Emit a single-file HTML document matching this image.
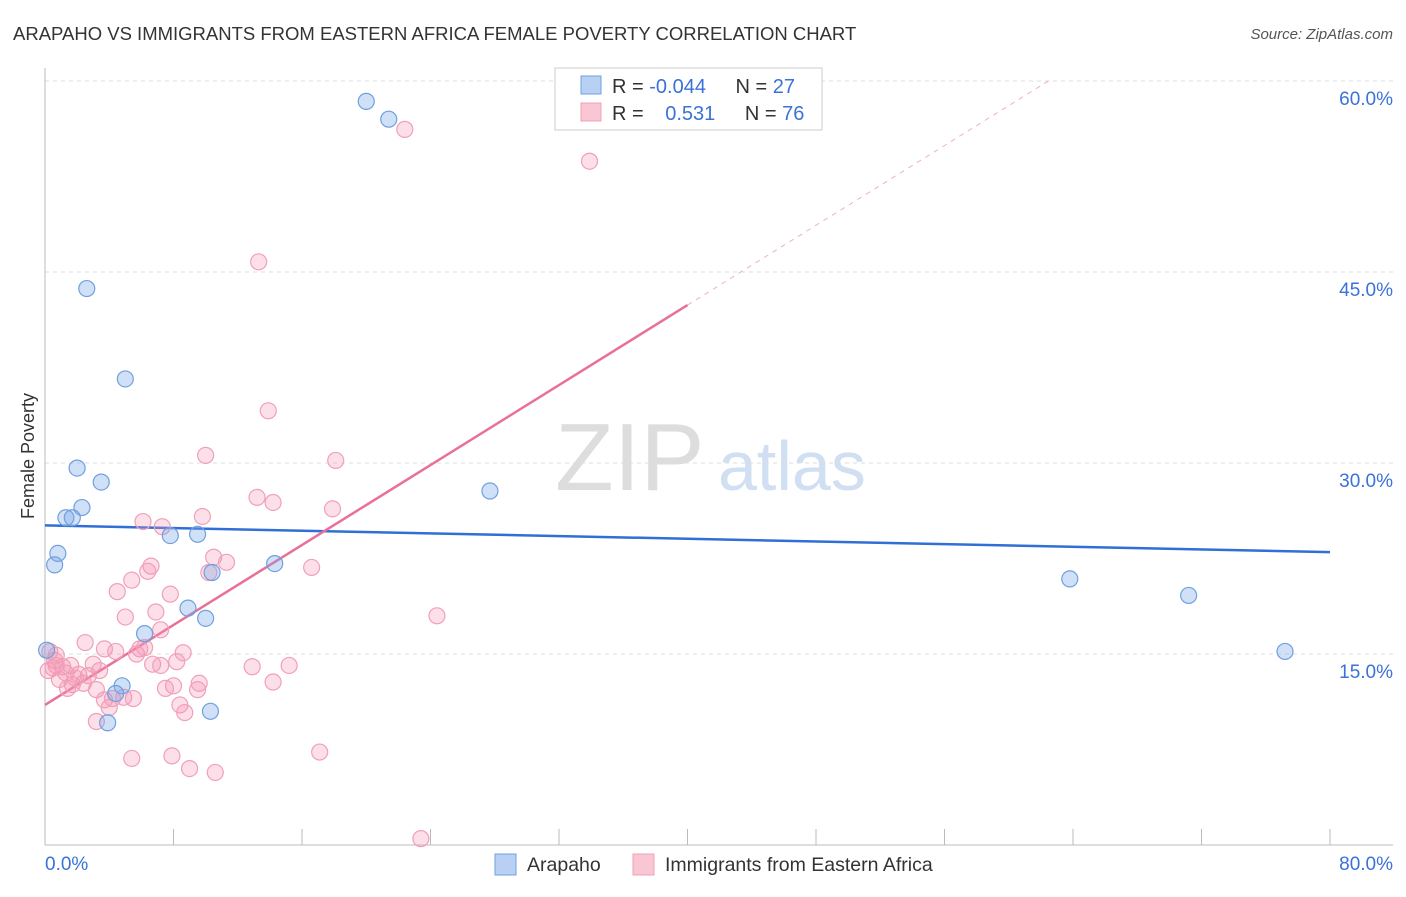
<!DOCTYPE html>
<html><head><meta charset="utf-8"><style>
body{margin:0;background:#fff;font-family:"Liberation Sans",sans-serif;}
svg text{font-family:"Liberation Sans",sans-serif;}
</style></head><body>
<svg id="chart" width="1406" height="892" xmlns="http://www.w3.org/2000/svg">
<text x="13" y="40" font-size="18.5" fill="#333">ARAPAHO VS IMMIGRANTS FROM EASTERN AFRICA FEMALE POVERTY CORRELATION CHART</text>
<text x="1393" y="39" font-size="15" fill="#555" text-anchor="end" font-style="italic">Source: ZipAtlas.com</text>
<text x="555" y="490" font-size="96" fill="#ddd" font-family="Liberation Serif">ZIP</text>
<text x="718" y="490" font-size="70" fill="#d0dff2">atlas</text>
<g id="grid"></g>
<g id="axes"></g>
<g id="lines"></g>
<g id="points"></g>
<text transform="translate(34,456) rotate(-90)" font-size="18" fill="#333" text-anchor="middle">Female Poverty</text>
<g>
<rect x="555" y="68" width="267" height="62" fill="#fff" stroke="#ccc"/>
<rect x="581" y="76" width="20" height="18" fill="#b8d0f4" stroke="#6fa0e0"/>
<rect x="581" y="103" width="20" height="18" fill="#f9c6d4" stroke="#f0a0b8"/>
<text x="612" y="93" font-size="20" fill="#333">R = <tspan fill="#3a72d8">-0.044</tspan>  <tspan dx="24">N = </tspan><tspan fill="#3a72d8">27</tspan></text>
<text x="612" y="120" font-size="20" fill="#333">R = <tspan fill="#3a72d8" dx="16">0.531</tspan>  <tspan dx="24">N = </tspan><tspan fill="#3a72d8">76</tspan></text>
</g>
<g>
<rect x="495" y="854" width="21" height="21" fill="#b8d0f4" stroke="#6fa0e0"/>
<text x="527" y="871" font-size="19.5" fill="#333">Arapaho</text>
<rect x="633" y="854" width="21" height="21" fill="#f9c6d4" stroke="#f0a0b8"/>
<text x="665" y="871" font-size="19.5" fill="#333">Immigrants from Eastern Africa</text>
</g>
</svg>
<script>
const yTicks=[15,30,45,60];
const xTickLabels=["0.0%","80.0%"];
const blueX=[2.6,5.0,20.0,21.4,2.0,3.5,2.3,1.3,1.7,0.8,0.6,7.8,9.5,10.4,14.3,8.9,10.0,6.2,0.1,4.8,4.4,3.9,10.3,27.7,63.8,71.2,77.2];
const blueY=[43.7,36.6,58.4,57.0,29.6,28.5,26.5,25.7,25.7,22.9,22.0,24.3,24.4,21.4,22.1,18.6,17.8,16.6,15.3,12.5,11.9,9.6,10.5,27.8,20.9,19.6,15.2];
const pinkX=[22.4,33.9,13.3,13.9,10.0,18.1,13.2,14.2,17.9,6.1,7.3,9.8,10.5,11.3,6.6,6.4,10.2,16.6,5.4,4.5,7.8,6.9,5.0,24.4,7.2,2.5,3.7,4.4,5.9,5.7,8.6,6.7,7.2,8.2,12.9,15.2,0.3,0.6,0.7,0.2,1.1,1.6,3.0,3.4,1.3,2.1,2.7,0.9,1.7,2.4,3.2,1.4,9.6,8.0,7.5,14.2,3.7,4.2,4.9,5.5,4.0,8.4,8.7,3.2,5.4,7.9,9.0,10.6,17.1,23.4,0.5,1.9,9.5,0.7,6.2];
const pinkY=[56.2,53.7,45.8,34.1,30.6,30.2,27.3,26.9,26.4,25.4,25.0,25.8,22.6,22.2,21.9,21.5,21.4,21.8,20.8,19.9,19.7,18.3,17.9,18.0,16.9,15.9,15.4,15.2,15.4,15.0,15.1,14.2,14.1,14.4,14.0,14.1,15.2,14.5,14.1,13.7,14.0,14.1,14.2,13.7,13.5,13.4,13.3,13.0,12.6,12.7,12.2,12.3,12.7,12.5,12.3,12.8,11.4,11.5,11.6,11.5,10.8,11.0,10.4,9.7,6.8,7.0,6.0,5.7,7.3,0.5,13.9,13.1,12.2,14.9,15.5];
const blueLine=[[0,25.1],[80,23.0]];
const pinkLine=[[0,11.0],[40,42.4]];
const pinkDash=[[40,42.4],[62.6,60.1]];
const NS="http://www.w3.org/2000/svg";
const xs=v=>45+v*(1330-45)/80;
const ys=v=>845-v*(191/15);
function mk(tag,attrs,parent){const e=document.createElementNS(NS,tag);for(const k in attrs)e.setAttribute(k,attrs[k]);document.getElementById(parent).appendChild(e);return e;}
yTicks.forEach(t=>{
 const g=mk('line',{x1:45,x2:1393,y1:ys(t),y2:ys(t),stroke:'#ddd','stroke-dasharray':'4,4'},'grid');
 
 
 const l=mk('text',{x:1393,y:ys(t)+24,'font-size':19,fill:'#3a72d8','text-anchor':'end'},'axes');
 l.textContent=t.toFixed(1)+'%';
 
 
});
const la=mk('line',{x1:45,x2:45,y1:68,y2:845,stroke:'#bbb'},'axes');


const ba=mk('line',{x1:45,x2:1393,y1:845,y2:845,stroke:'#bbb'},'axes');


for(let i=0;i<=10;i++){const t=mk('line',{x1:xs(i*8),x2:xs(i*8),y1:829,y2:845,stroke:'#bbb'},'axes');
 
 }
const x0=mk('text',{x:45,y:870,'font-size':19,fill:'#3a72d8'},'axes');x0.textContent=xTickLabels[0];


const x1=mk('text',{x:1393,y:870,'font-size':19,fill:'#3a72d8','text-anchor':'end'},'axes');x1.textContent=xTickLabels[1];


function ln(p,st,dash,name){const e=mk('line',{x1:xs(p[0][0]),y1:ys(p[0][1]),x2:xs(p[1][0]),y2:ys(p[1][1]),stroke:st,'stroke-width':dash?1:2.5},'lines');if(dash)e.setAttribute('stroke-dasharray','5,5');
 
 }
ln(blueLine,'#2f6fd6',false,'arapaho-trend-line');
ln(pinkLine,'#e8709a',false,'eastern-africa-trend-line');
ln(pinkDash,'#f0b0c4',true,'eastern-africa-trend-extension');
pinkX.forEach((x,i)=>{const c=mk('circle',{cx:xs(x),cy:ys(pinkY[i]),r:8,fill:'rgba(245,150,180,0.3)',stroke:'#f0a0b8','stroke-width':1.2},'points');
 
 });
blueX.forEach((x,i)=>{const c=mk('circle',{cx:xs(x),cy:ys(blueY[i]),r:8,fill:'rgba(120,165,230,0.35)',stroke:'#6fa0e0','stroke-width':1.2},'points');
 
 });
</script>
</body></html>
